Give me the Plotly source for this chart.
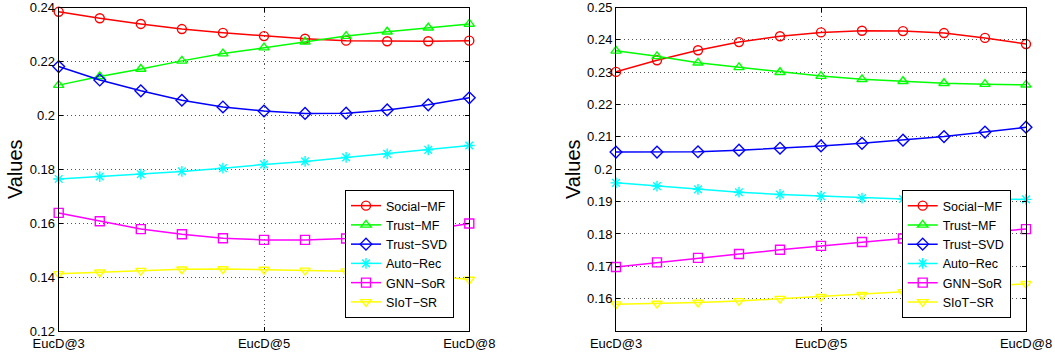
import plotly.graph_objects as go

x_idx = list(range(11))
x_tickvals = [0, 5, 10]
x_ticktext = ["EucD@3", "EucD@5", "EucD@8"]

series_names = ["Social\u2212MF", "Trust\u2212MF", "Trust\u2212SVD", "Auto\u2212Rec", "GNN\u2212SoR", "SIoT\u2212SR"]

# Left panel values
left_social_mf = [0.2384, 0.2360, 0.2339, 0.2320, 0.2306, 0.2294, 0.2284, 0.2277, 0.2275, 0.2275, 0.2277]
left_trust_mf = [0.2112, 0.2144, 0.2172, 0.2202, 0.2229, 0.2251, 0.2273, 0.2294, 0.2310, 0.2325, 0.2339]
left_trust_svd = [0.2181, 0.2131, 0.2091, 0.2056, 0.2031, 0.2016, 0.2007, 0.2008, 0.2020, 0.2039, 0.2065]
left_auto_rec = [0.1764, 0.1773, 0.1782, 0.1792, 0.1804, 0.1818, 0.1829, 0.1844, 0.1857, 0.1872, 0.1888]
left_gnn_sor = [0.1638, 0.1607, 0.1578, 0.1559, 0.1544, 0.1538, 0.1538, 0.1543, 0.1555, 0.1575, 0.1599]
left_siot_sr = [0.1412, 0.1418, 0.1424, 0.1429, 0.1430, 0.1428, 0.1425, 0.1422, 0.1415, 0.1405, 0.1391]

# Right panel values
right_social_mf = [0.2301, 0.2337, 0.2368, 0.2393, 0.2411, 0.2423, 0.2428, 0.2427, 0.2421, 0.2406, 0.2387]
right_trust_mf = [0.2366, 0.2349, 0.2329, 0.2315, 0.2300, 0.2288, 0.2278, 0.2272, 0.2266, 0.2263, 0.2261]
right_trust_svd = [0.2053, 0.2053, 0.2054, 0.2059, 0.2065, 0.2072, 0.2080, 0.2090, 0.2101, 0.2115, 0.2130]
right_auto_rec = [0.1958, 0.1948, 0.1938, 0.1929, 0.1922, 0.1917, 0.1911, 0.1908, 0.1906, 0.1906, 0.1907]
right_gnn_sor = [0.1698, 0.1712, 0.1726, 0.1738, 0.1751, 0.1763, 0.1775, 0.1786, 0.1796, 0.1806, 0.1815]
right_siot_sr = [0.1583, 0.1585, 0.1588, 0.1593, 0.1600, 0.1606, 0.1612, 0.1621, 0.1629, 0.1637, 0.1646]

left_yticks = [0.12, 0.14, 0.16, 0.18, 0.20, 0.22, 0.24]
left_yticktext = ["0.12", "0.14", "0.16", "0.18", "0.2", "0.22", "0.24"]
right_yticks = [0.16, 0.17, 0.18, 0.19, 0.20, 0.21, 0.22, 0.23, 0.24, 0.25]
right_yticktext = ["0.16", "0.17", "0.18", "0.19", "0.2", "0.21", "0.22", "0.23", "0.24", "0.25"]

colors = ["#ff0000", "#00ff00", "#0000ff", "#00ffff", "#ff00ff", "#ffff00"]
symbols = ["circle-open", "triangle-up-open", "diamond-open", "asterisk-open", "square-open", "triangle-down-open"]

FONT = "Liberation Sans, Arial, Helvetica, sans-serif"

fig = go.Figure()

left_data = [left_social_mf, left_trust_mf, left_trust_svd, left_auto_rec, left_gnn_sor, left_siot_sr]
right_data = [right_social_mf, right_trust_mf, right_trust_svd, right_auto_rec, right_gnn_sor, right_siot_sr]

for i, (name, ys) in enumerate(zip(series_names, left_data)):
    fig.add_trace(go.Scatter(
        x=x_idx, y=ys, name=name, mode="lines+markers",
        line=dict(color=colors[i], width=1.5),
        marker=dict(symbol=symbols[i], size=9, color=colors[i], line=dict(width=1.4, color=colors[i])),
        xaxis="x", yaxis="y", legend="legend", cliponaxis=False,
    ))
for i, (name, ys) in enumerate(zip(series_names, right_data)):
    fig.add_trace(go.Scatter(
        x=x_idx, y=ys, name=name, mode="lines+markers",
        line=dict(color=colors[i], width=1.5),
        marker=dict(symbol=symbols[i], size=9, color=colors[i], line=dict(width=1.4, color=colors[i])),
        xaxis="x2", yaxis="y2", legend="legend2", cliponaxis=False,
    ))

W, H = 1055, 356
ydom = [1 - 331 / H, 1 - 7.5 / H]

GRID = dict(showgrid=True, gridcolor="#555555", griddash="1px,3px", gridwidth=1)

common_x = dict(
    range=[0, 10], tickmode="array", tickvals=x_tickvals, ticktext=x_ticktext,
    showline=True, linecolor="black", linewidth=1, mirror="ticks",
    ticks="inside", ticklen=4, tickcolor="black", automargin=False,
    zeroline=False, tickfont=dict(family=FONT, size=13, color="black"), **GRID,
)
common_y = dict(
    showline=True, linecolor="black", linewidth=1, mirror="ticks",
    ticks="inside", ticklen=4, tickcolor="black", automargin=False,
    zeroline=False, tickfont=dict(family=FONT, size=13, color="black"), **GRID,
    title=dict(text="Values", font=dict(family=FONT, size=20, color="black"), standoff=1),
)

legend_common = dict(
    xanchor="left", yanchor="top",
    bgcolor="white", bordercolor="black", borderwidth=1,
    font=dict(family=FONT, size=12.5, color="black"),
    tracegroupgap=0, itemwidth=30,
)

fig.update_layout(
    width=W, height=H,
    margin=dict(l=0, r=0, t=0, b=0),
    paper_bgcolor="white", plot_bgcolor="white",
    font=dict(family=FONT, color="black"),
    xaxis=dict(domain=[58.7 / W, 469.3 / W], anchor="y", **common_x),
    yaxis=dict(domain=ydom, anchor="x", range=[0.12, 0.24], tickmode="array",
               tickvals=left_yticks, ticktext=left_yticktext, **common_y),
    xaxis2=dict(domain=[616 / W, 1026 / W], anchor="y2", **common_x),
    yaxis2=dict(domain=ydom, anchor="x2", range=[0.15, 0.25], tickmode="array",
                tickvals=right_yticks, ticktext=right_yticktext, **common_y),
    legend=dict(x=345 / W, y=1 - 190 / H, **legend_common),
    legend2=dict(x=901.7 / W, y=1 - 190 / H, **legend_common),
)

fig.write_html("out.html")
